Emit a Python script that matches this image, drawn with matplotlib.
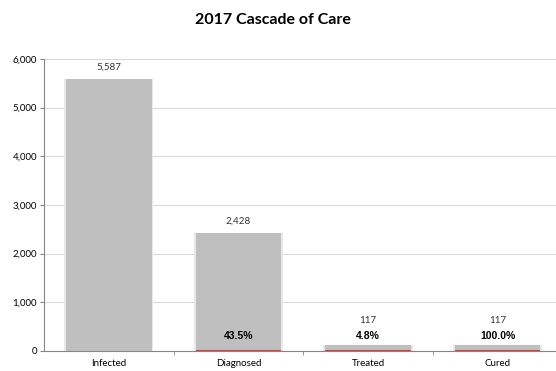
import numpy as np
from matplotlib import pyplot as plt

# Data
stages = ['Infected', 'Diagnosed', 'Treated', 'Cured']
counts = [5587, 2428, 117, 117]
pct_labels = [None, '43.5%', '4.8%', '100.0%']
pct_values = [None, 0.435, 0.048, 1.0]

bar_grey = '#bfbfbf'
grid_grey = '#d9d9d9'
axis_grey = '#868686'
red = '#b2504f'

plt.rcParams['font.family'] = ['Lato', 'DejaVu Sans']

fig = plt.figure(figsize=(5.56, 3.71), dpi=100)
ax = fig.add_axes([0.079, 0.054, 0.921, 0.787])

x = np.arange(len(stages))
width = 0.66

# soft shadow behind the bars
ax.bar(x, counts, width=width + 0.03, color='#e8e8e8', zorder=2)
ax.bar(x, counts, width=width, color=bar_grey, zorder=3)

# thin red series at the base of the later stages
for xi, p in zip(x, pct_values):
    if p is None:
        continue
    ax.bar(xi, p, width=width, color=red, edgecolor=red, linewidth=1.5, zorder=4)

# labels
for xi, c, pl in zip(x, counts, pct_labels):
    if pl is not None:
        ax.annotate(pl, (xi, 0), xytext=(0, 7), textcoords='offset points',
                    ha='center', va='bottom', fontsize=7.5, fontweight='bold',
                    family=['Liberation Sans', 'DejaVu Sans'], zorder=5)
    top_px = c / 6000 * 292
    off = max(top_px * 0.72 + 5, 19) if pl is not None else top_px * 0.72 + 5
    ax.annotate(f'{c:,}', (xi, 0), xytext=(0, off), textcoords='offset points',
                ha='center', va='bottom', fontsize=7, color='#333333', zorder=5)

ax.set_ylim(0, 6000)
ax.set_xlim(-0.5, 3.45)
ax.set_yticks(np.arange(0, 6001, 1000))
ax.set_yticklabels([f'{v:,}' for v in range(0, 6001, 1000)], fontsize=7)
ax.set_xticks(x)
ax.set_xticklabels(stages, fontsize=7)
ax.set_xticks([0.5, 1.5, 2.5], minor=True)
ax.tick_params(axis='x', which='major', length=0, pad=6)
ax.tick_params(axis='x', which='minor', length=3, color=axis_grey)
ax.tick_params(axis='y', length=3, color=axis_grey, pad=2)

ax.grid(axis='y', color=grid_grey, linewidth=0.8, zorder=0)
ax.set_axisbelow(True)
for side in ['top', 'right']:
    ax.spines[side].set_visible(False)
for side in ['left', 'bottom']:
    ax.spines[side].set_color(axis_grey)
    ax.spines[side].set_linewidth(0.8)

fig.text(0.49, 0.945, '2017 Cascade of Care', ha='center', va='center',
         fontsize=11.5, fontweight='bold')

fig.savefig('out.png', dpi=100)
